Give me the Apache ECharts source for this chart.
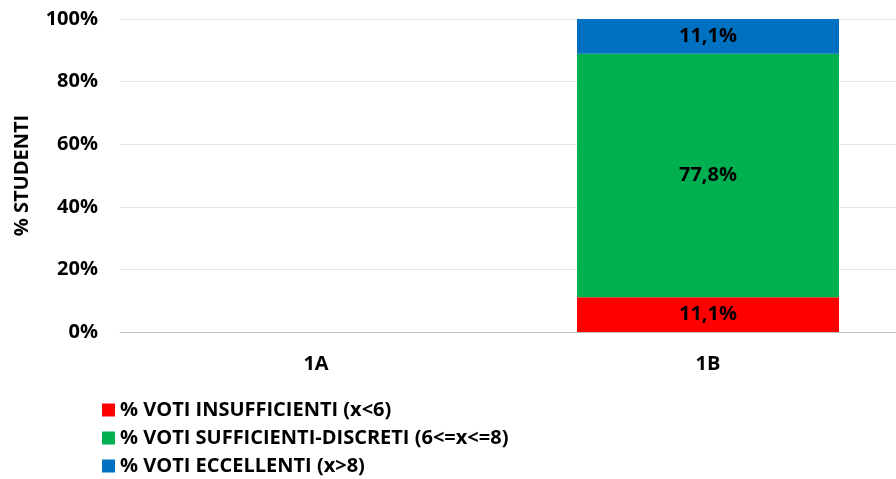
<!DOCTYPE html>
<html>
<head>
<meta charset="utf-8">
<script src="https://cdn.jsdelivr.net/npm/echarts@6/dist/echarts.min.js"></script>
<style>
  html, body { margin: 0; padding: 0; background: #fff; overflow: hidden; }
  /* il grafico originale è tagliato a destra: il contenitore è più largo della finestra */
  #chart { width: 904px; height: 479px; }
</style>
</head>
<body>
<div id="chart"></div>
<script>
// classi e valori percentuali
const classi = ['1A', '1B']
const insufficienti = [null, 11.1]
const sufficienti = [null, 77.8]
const eccellenti = [null, 11.1]

const nomiSerie = [
  '% VOTI INSUFFICIENTI (x<6)',
  '% VOTI SUFFICIENTI-DISCRETI (6<=x<=8)',
  '% VOTI ECCELLENTI (x>8)',
]
const colori = ['#ff0000', '#00b050', '#0070c0']

const font = 'Open Sans'

const chart = echarts.init(document.getElementById('chart'))

// etichetta con virgola decimale
const etichetta = {
  show: true,
  position: 'inside',
  color: '#000',
  fontFamily: font,
  fontWeight: 'bold',
  fontSize: 20,
  formatter: p => p.value == null ? '' : p.value.toFixed(1).replace('.', ',') + '%',
}

function serie(nome, dati, colore) {
  return {
    name: nome,
    type: 'bar',
    stack: 'tot',
    data: dati,
    barWidth: 262,
    itemStyle: { color: colore },
    label: etichetta,
  }
}

chart.setOption({
  animation: false,
  grid: { left: 120, top: 19, width: 784, height: 313 },
  legend: {
    orient: 'vertical',
    left: 102,
    top: 400,
    padding: 0,
    itemWidth: 13,
    itemHeight: 13,
    itemGap: 8,
    icon: 'rect',
    textStyle: { fontFamily: font, fontWeight: 'bold', fontSize: 20, color: '#000' },
    data: nomiSerie,
  },
  xAxis: {
    type: 'category',
    data: classi,
    axisLine: { lineStyle: { color: '#bfbfbf', width: 1 } },
    axisTick: { show: false },
    axisLabel: { margin: 22, color: '#000', fontFamily: font, fontWeight: 'bold', fontSize: 20 },
  },
  yAxis: {
    type: 'value',
    min: 0,
    max: 100,
    interval: 20,
    name: '% STUDENTI',
    nameLocation: 'middle',
    nameGap: 88,
    nameTextStyle: { color: '#000', fontFamily: font, fontWeight: 'bold', fontSize: 20 },
    axisLabel: { formatter: '{value}%', margin: 22, color: '#000', fontFamily: font, fontWeight: 'bold', fontSize: 20 },
    splitLine: { lineStyle: { color: '#e6e6e6', width: 1 } },
  },
  series: [
    serie(nomiSerie[0], insufficienti, colori[0]),
    serie(nomiSerie[1], sufficienti, colori[1]),
    serie(nomiSerie[2], eccellenti, colori[2]),
  ],
})
</script>
</body>
</html>
